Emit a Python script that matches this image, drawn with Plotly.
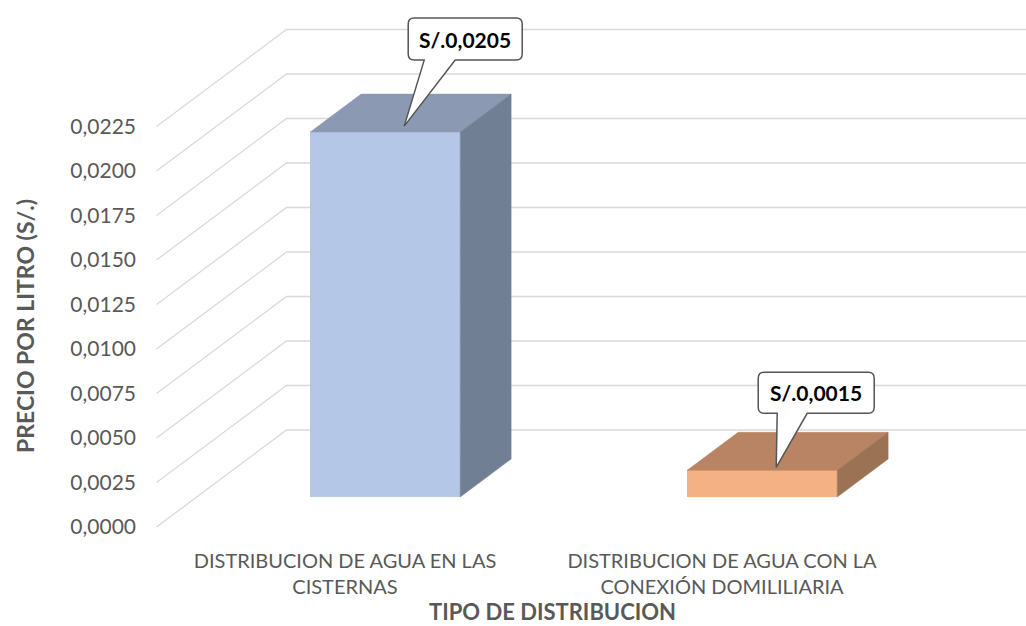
import plotly.graph_objects as go

# ---- data -------------------------------------------------------------
categorias = [
    "DISTRIBUCION DE AGUA EN LAS<br>CISTERNAS",
    "DISTRIBUCION DE AGUA CON LA<br>CONEXIÓN DOMILILIARIA",
]
precio_litro = [0.0205, 0.0015]
etiquetas_valor = ["S/.0,0205", "S/.0,0015"]
ticks_precio = [0.0, 0.0025, 0.0050, 0.0075, 0.0100, 0.0125,
                0.0150, 0.0175, 0.0200, 0.0225]

# ---- styling ----------------------------------------------------------
color_frente = ["#B4C7E7", "#F4B183"]
color_tapa = ["#8B9AB2", "#B98463"]
color_lado = ["#717F94", "#9C7254"]
GRID = "#D9D9D9"
TEXTO = "#595959"
FUENTE = "Lato"

# ---- page / projection geometry (pixels) ------------------------------
W, H = 1026, 626
PLOT_L, PLOT_R, PLOT_T, PLOT_B = 142, 1026, 10, 540
CAT_PX = 377          # horizontal pixels per category
CAT0_PX = 345         # front-plane centre of the first category
ZERO_PX = 527         # front-plane pixel row of value 0
UNIT_PX = 17800       # pixels per price unit

# oblique depth of the chart box, converted to axis units
WALL_DX = 130 / CAT_PX
WALL_DY = 97 / UNIT_PX
BAR_T0, BAR_T1 = 30 / 97, 68 / 97      # bar front / back depth (0 = front, 1 = wall)
BAR_W = 150 / CAT_PX
FLOOR_L = -0.5

x_range = [(PLOT_L - CAT0_PX) / CAT_PX, (PLOT_R - CAT0_PX) / CAT_PX]
y_range = [(ZERO_PX - PLOT_B) / UNIT_PX, (ZERO_PX - PLOT_T) / UNIT_PX]

def paper_x(px):
    return (px - PLOT_L) / (PLOT_R - PLOT_L)

def paper_y(py):
    return (PLOT_B - py) / (PLOT_B - PLOT_T)

fig = go.Figure()
shapes = []
annotations = []

# ---- walls: diagonal side-wall lines and back-wall lines ---------------
far_x = 1.5 + WALL_DX
for v in ticks_precio:
    shapes.append(dict(
        type="path", xref="x", yref="y", layer="below",
        path=(f"M{FLOOR_L},{v} L{FLOOR_L + WALL_DX},{v + WALL_DY} "
              f"L{far_x},{v + WALL_DY}"),
        line=dict(color=GRID, width=1.3),
    ))

# ---- 3D columns -------------------------------------------------------
ddx = (BAR_T1 - BAR_T0) * WALL_DX
ddy = (BAR_T1 - BAR_T0) * WALL_DY
base = BAR_T0 * WALL_DY
centros = [i + BAR_T0 * WALL_DX for i in range(len(precio_litro))]

fig.add_trace(go.Bar(
    x=centros, y=precio_litro, base=[base] * len(precio_litro),
    width=BAR_W, marker=dict(color=color_frente, line=dict(width=0)),
    hoverinfo="skip", showlegend=False,
))

for i, v in enumerate(precio_litro):
    xl, xr = centros[i] - BAR_W / 2, centros[i] + BAR_W / 2
    top = base + v
    fig.add_trace(go.Scatter(
        x=[xl, xr, xr + ddx, xl + ddx, xl],
        y=[top, top, top + ddy, top + ddy, top],
        fill="toself", fillcolor=color_tapa[i], mode="lines",
        line=dict(color=color_tapa[i], width=0.5),
        hoverinfo="skip", showlegend=False,
    ))
    fig.add_trace(go.Scatter(
        x=[xr, xr, xr + ddx, xr + ddx, xr],
        y=[base, top, top + ddy, base + ddy, base],
        fill="toself", fillcolor=color_lado[i], mode="lines",
        line=dict(color=color_lado[i], width=0.5),
        hoverinfo="skip", showlegend=False,
    ))

# ---- callout labels (pixel offsets from the front-top centre, y up) ----
callouts = [
    dict(box=(23, 137, 72, 114), wedge=(39, 70), tip=(19, 6)),
    dict(box=(-4, 112, 57, 98), wedge=(15, 45), tip=(14, 3)),
]
R = 6
for i, v in enumerate(precio_litro):
    c = callouts[i]
    x0, x1, y0, y1 = c["box"]
    wl, wr = c["wedge"]
    tx, ty = c["tip"]
    path = (f"M{x0 + R},{y1} L{x1 - R},{y1} Q{x1},{y1} {x1},{y1 - R} "
            f"L{x1},{y0 + R} Q{x1},{y0} {x1 - R},{y0} "
            f"L{wr},{y0} L{tx},{ty} L{wl},{y0} "
            f"L{x0 + R},{y0} Q{x0},{y0} {x0},{y0 + R} "
            f"L{x0},{y1 - R} Q{x0},{y1} {x0 + R},{y1} Z")
    shapes.append(dict(
        type="path", xref="x", yref="y", layer="above",
        xsizemode="pixel", ysizemode="pixel",
        xanchor=centros[i], yanchor=base + v, path=path,
        fillcolor="white", line=dict(color="#555555", width=1.5),
    ))
    annotations.append(dict(
        x=centros[i], y=base + v, xref="x", yref="y",
        xshift=(x0 + x1) / 2, yshift=(y0 + y1) / 2,
        xanchor="center", yanchor="middle",
        text=f"<b>{etiquetas_valor[i]}</b>", showarrow=False,
        font=dict(family=FUENTE, size=21, color="black"),
    ))

# ---- axis titles ------------------------------------------------------
annotations.append(dict(
    x=paper_x(25), y=paper_y(326), xref="paper", yref="paper",
    xanchor="center", yanchor="middle",
    text="<b>PRECIO POR LITRO (S/.)</b>", textangle=-90, showarrow=False,
    font=dict(family=FUENTE, size=23, color=TEXTO),
))
annotations.append(dict(
    x=paper_x(552), y=paper_y(611), xref="paper", yref="paper",
    xanchor="center", yanchor="middle",
    text="<b>TIPO DE DISTRIBUCION</b>", showarrow=False,
    font=dict(family=FUENTE, size=22, color=TEXTO),
))

fig.update_layout(
    width=W, height=H,
    margin=dict(l=PLOT_L, r=W - PLOT_R, t=PLOT_T, b=H - PLOT_B),
    paper_bgcolor="white", plot_bgcolor="white",
    separators=",.",
    shapes=shapes, annotations=annotations,
    xaxis=dict(
        range=x_range, showgrid=False, zeroline=False, showline=False,
        tickmode="array", tickvals=list(range(len(categorias))),
        ticktext=categorias, ticks="", ticklabelstandoff=7,
        tickfont=dict(family=FUENTE, size=20, color=TEXTO),
    ),
    yaxis=dict(
        range=y_range, showgrid=False, zeroline=False, showline=False,
        tickmode="array", tickvals=ticks_precio, tickformat=".4f", ticks="",
        ticklabelstandoff=5,
        tickfont=dict(family=FUENTE, size=21, color=TEXTO),
    ),
    bargap=0,
)

fig.write_html("out.html")
